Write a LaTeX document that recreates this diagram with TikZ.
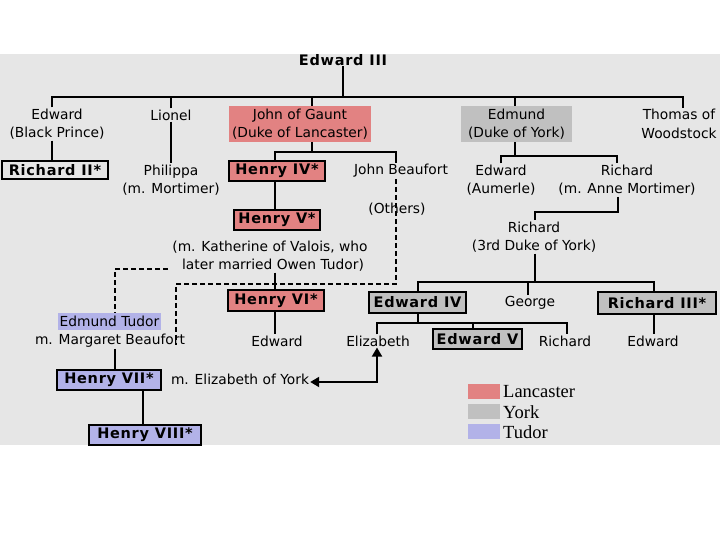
\documentclass[tikz,border=0pt]{standalone}
\usepackage{fontspec}
\setmainfont{DejaVu Sans}
\newfontfamily\legendfont{Liberation Serif}
\newfontfamily\bxfont{DejaVu Sans}[LetterSpace=5]
\usetikzlibrary{arrows.meta}
\definecolor{bgc}{RGB}{230,230,230}
\definecolor{lanc}{RGB}{226,130,130}
\definecolor{yorkc}{RGB}{192,192,192}
\definecolor{tudorc}{RGB}{178,178,232}
\begin{document}
\begin{tikzpicture}[x=1pt,y=-1pt,
  txt/.style={font=\fontsize{13.8}{18.5}\selectfont, align=center, inner sep=1pt},
  bx/.style={draw=black, line width=1.5pt, font=\bxfont\bfseries\fontsize{14.5}{15}\selectfont, inner sep=0pt},
  plain/.style={inner sep=0pt},
  link/.style={line width=1.8pt},
  thin/.style={line width=1.1pt},
  dsh/.style={line width=1.9pt, dash pattern=on 5pt off 3pt},
  bigtri/.style={{Triangle[width=10pt,length=9pt]}-{Triangle[width=10pt,length=9pt]}}]
\useasboundingbox (0,0) rectangle (720,540);
\fill[white] (0,0) rectangle (720,540);
\fill[bgc] (0,54) rectangle (720,445);

% generation 1
\node[plain, font=\bxfont\bfseries\fontsize{14.5}{15}\selectfont] (edw3) at (343,60) {Edward III};
\coordinate (bus1) at (343,97);
\node[txt] (bp) at (57,124) {Edward\\(Black Prince)};
\node[txt] (lionel) at (171,115) {Lionel};
\node[fill=lanc, minimum width=142pt, minimum height=36pt, txt] (gaunt) at (300,124) {John of Gaunt\\(Duke of Lancaster)};
\node[fill=yorkc, minimum width=111pt, minimum height=36pt, txt] (edmund) at (516.5,124) {Edmund\\(Duke of York)};
\node[txt] (thomas) at (679,124) {Thomas of\\Woodstock};

\draw[link] (edw3.south) -- (bus1);
\draw[link] (bp.north -| 52,0) |- (bus1) -| (thomas.north -| 683,0);
\draw[link] (lionel.north) -- (lionel.north |- bus1);
\draw[link] ([xshift=12pt]gaunt.north) -- ([xshift=12pt]gaunt.north |- bus1);
\draw[link] ([xshift=-1.5pt]edmund.north) -- ([xshift=-1.5pt]edmund.north |- bus1);

% generation 2
\node[bx, minimum width=106pt, minimum height=18pt] (r2) at (55,170) {Richard II*};
\node[txt] (philippa) at (171,180) {Philippa\\(m. Mortimer)};
\node[bx, fill=lanc, minimum width=96pt, minimum height=20pt] (h4) at (277,171) {Henry IV*};
\node[txt] (jbeau) at (401,171) {John Beaufort};
\node[txt] (aumerle) at (501,180) {Edward\\(Aumerle)};
\node[txt] (richA) at (627,180) {Richard\\(m. Anne Mortimer)};

\draw[link] (bp.south -| 52,0) -- (r2.north -| 52,0);
\draw[link] (lionel.south) -- (philippa.north);
\coordinate (bus2) at (312,152);
\draw[link] (gaunt.south -| bus2) -- (bus2);
\draw[link] (h4.north -| 275,0) |- (bus2) -| (jbeau.north -| 396,0);
\coordinate (bus3) at (515,156);
\draw[link] (edmund.south -| bus3) -- (bus3);
\draw[link] (aumerle.north) |- (bus3) -| (richA.north -| 617,0);

% Lancaster line
\node[txt] (others) at (397,209) {(Others)};
\node[bx, fill=lanc, minimum width=86pt, minimum height=20pt] (h5) at (277,220) {Henry V*};
\node[txt, align=center] (kath) at (270,256) {(m. Katherine of Valois, who\\\hspace*{6pt}later married Owen Tudor)};
\node[bx, fill=lanc, minimum width=96pt, minimum height=21pt] (h6) at (276,300.5) {Henry VI*};
\node[txt] (edwL) at (277,341) {Edward};
\draw[link] (h4.south -| 275,0) -- (h5.north -| 275,0);
\draw[thin] (kath.south -| 275,0) -- (h6.north -| 275,0);
\draw[thin] (h6.south -| 275,0) -- (edwL.north -| 275,0);

% Tudor line
\node[fill=tudorc, minimum width=103pt, minimum height=17pt, txt] (etudor) at (109.5,321.5) {Edmund Tudor};
\node[txt] (mbeau) at (110,341) {m. Margaret Beaufort};
\node[bx, fill=tudorc, minimum width=104pt, minimum height=20pt] (h7) at (109,380) {Henry VII*};
\node[txt] (mey) at (240,379) {m. Elizabeth of York};
\node[bx, fill=tudorc, minimum width=112pt, minimum height=20pt] (h8) at (145,435) {Henry VIII*};
\draw[link] (mbeau.south -| 115,0) -- (h7.north -| 115,0);
\draw[thin] (h7.south -| 143,0) -- (h8.north -| 143,0);

% dashed links
\coordinate (ko) at (168,269);
\draw[dsh] (ko) -| (etudor.north -| 115,0);
\coordinate (d2) at (176,345);
\draw[dsh] (jbeau.south -| 396,0) -- (396,284) -| (d2);

% York line
\node[txt] (rich3) at (534,237) {Richard\\(3rd Duke of York)};
\draw[link] (richA.south -| 618,0) -- (618,212) -| (rich3.north -| 535,0);
\node[bx, fill=yorkc, minimum width=97pt, minimum height=21pt] (e4) at (417.5,302.5) {Edward IV};
\node[txt] (george) at (530,303) {George};
\node[bx, fill=yorkc, minimum width=118pt, minimum height=22pt] (r3) at (657,303) {Richard III*};
\coordinate (bus4) at (535,282);
\draw[link] (rich3.south -| bus4) -- (bus4);
\draw[link] (e4.north -| 418,0) |- (bus4) -| (r3.north -| 654,0);
\draw[link] (george.north -| 528,0) -- (528,282);

\node[txt] (eliz) at (378,341) {Elizabeth};
\node[bx, fill=yorkc, minimum width=89pt, minimum height=20pt] (e5) at (477.5,339) {Edward V};
\node[txt] (richB) at (565,341) {Richard};
\node[txt] (edwR) at (653,341) {Edward};
\coordinate (bus5) at (418,323);
\draw[link] (e4.south -| bus5) -- (bus5);
\draw[link] (eliz.north -| 377,0) |- (bus5) -| (richB.north -| 567,0);
\draw[link] (e5.north -| 473,0) -- (473,323);
\draw[link] (r3.south -| 654,0) -- (edwR.north -| 654,0);

% marriage arrow
\draw[link, bigtri] (mey.east |- 0,382) -| (eliz.south -| 377,0);

% legend
\fill[lanc] (468,384) rectangle (500,399);
\fill[yorkc] (468,404) rectangle (500,419);
\fill[tudorc] (468,424) rectangle (500,439);
\node[anchor=west, inner sep=0pt, font=\legendfont\fontsize{18.5}{18}\selectfont] (lgL) at (503,392) {Lancaster};
\node[anchor=west, inner sep=0pt, font=\legendfont\fontsize{18.5}{18}\selectfont] (lgY) at (503,412) {York};
\node[anchor=west, inner sep=0pt, font=\legendfont\fontsize{18.5}{18}\selectfont] (lgT) at (503,432) {Tudor};
\end{tikzpicture}
\end{document}
